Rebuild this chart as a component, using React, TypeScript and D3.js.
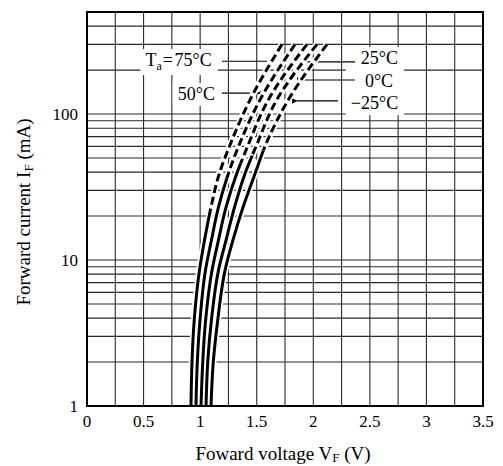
import React, { useEffect, useRef } from "react";
import * as d3 from "d3";

const W = 503;
const H = 466;

// Forward current sample points (mA), shared by all curves
const currents = [1, 2, 3.9, 8.5, 13.7, 23, 39, 60, 125, 300];
// Forward voltage (V) per ambient temperature
const vf75 = [0.919, 0.928, 0.948, 0.994, 1.039, 1.096, 1.169, 1.259, 1.441, 1.723];
const vf50 = [0.963, 0.975, 0.999, 1.047, 1.1, 1.162, 1.249, 1.339, 1.529, 1.838];
const vf25 = [1.008, 1.023, 1.049, 1.105, 1.162, 1.229, 1.323, 1.419, 1.602, 1.944];
const vf0 = [1.052, 1.067, 1.1, 1.162, 1.229, 1.304, 1.396, 1.494, 1.677, 2.033];
const vfm25 = [1.096, 1.116, 1.156, 1.22, 1.29, 1.379, 1.485, 1.573, 1.779, 2.121];
const seriesV = [vf75, vf50, vf25, vf0, vfm25];
// current (mA) above which each curve is drawn dashed
const dashAbove = [20, 36, 46, 52, 56];

const xTicks = [0, 0.5, 1, 1.5, 2, 2.5, 3, 3.5];
const xTickLabels = ["0", "0.5", "1", "1.5", "2", "2.5", "3", "3.5"];
const xGrid = [0.25, 0.5, 0.75, 1, 1.25, 1.5, 1.75, 2, 2.25, 2.5, 2.75, 3, 3.25];
const yTicks = [1, 10, 100];
const yTickLabels = ["1", "10", "100"];
const yGrid = [2, 3, 4, 5, 6, 7, 8, 9, 10, 20, 30, 40, 50, 60, 70, 80, 90, 100, 200, 300, 400];

// annotation labels: text, subscript, tail, position (V, mA), anchor, group
const labelMain = ["T", "50°C", "25°C", "0°C", "−25°C"];
const labelSub = ["a", "", "", "", ""];
const labelTail = ["=75°C", "", "", "", ""];
const labelV = [1.102, 1.131, 2.585, 2.581, 2.541];
const labelI = [213, 124.7, 220, 154, 108];
const labelAnchor = ["end", "end", "middle", "middle", "middle"];
const labelGroup = [0, 1, 2, 2, 2];

// leader lines: current (mA), from V, to V, arrow at "from" end
const leaderI = [230, 139, 228, 171, 123];
const leaderV1 = [1.591, 1.503, 1.944, 1.9, 1.856];
const leaderV2 = [1.193, 1.193, 2.369, 2.369, 2.218];
const leaderArrow = [false, true, false, true, true];

const FONT = "'Liberation Serif', 'Times New Roman', serif";

export default function App() {
  const ref = useRef<SVGSVGElement | null>(null);

  useEffect(() => {
    const svg = d3.select(ref.current);
    svg.selectAll("*").remove();

    const x = d3.scaleLinear().domain([0, 3.5]).range([87, 483]);
    const y = d3.scaleLog().domain([1, 500]).range([406, 12]);
    const [x0, x1] = x.range();
    const [y0, y1] = y.range();

    svg.append("rect").attr("width", W).attr("height", H).attr("fill", "#fff");

    const defs = svg.append("defs");
    defs
      .append("marker")
      .attr("id", "arr")
      .attr("viewBox", "0 0 10 10")
      .attr("refX", 1)
      .attr("refY", 5)
      .attr("markerWidth", 6)
      .attr("markerHeight", 6)
      .attr("markerUnits", "userSpaceOnUse")
      .attr("orient", "auto-start-reverse")
      .append("path")
      .attr("d", "M0,5 L10,0 L10,10 Z")
      .attr("fill", "#000");

    // grid
    const g = svg.append("g");
    g.selectAll("line.vx")
      .data(xGrid)
      .join("line")
      .attr("x1", (d) => x(d))
      .attr("x2", (d) => x(d))
      .attr("y1", y1)
      .attr("y2", y0)
      .attr("stroke", "#2a2a2a")
      .attr("stroke-width", 1.1);
    g.selectAll("line.hy")
      .data(yGrid)
      .join("line")
      .attr("x1", x0)
      .attr("x2", x1)
      .attr("y1", (d) => y(d))
      .attr("y2", (d) => y(d))
      .attr("stroke", "#2a2a2a")
      .attr("stroke-width", 1.1);

    // labels (measured for white backgrounds)
    const boxLayer = svg.append("g");
    const leaderLayer = svg.append("g");
    const textLayer = svg.append("g");
    const nodes: SVGTextElement[] = [];
    labelMain.forEach((m, i) => {
      const t = textLayer
        .append("text")
        .attr("x", x(labelV[i]))
        .attr("y", y(labelI[i]))
        .attr("text-anchor", labelAnchor[i])
        .attr("font-family", FONT)
        .attr("font-size", 18)
        .attr("fill", "#000");
      t.append("tspan").text(m);
      if (labelSub[i]) {
        t.append("tspan").attr("font-size", 12).attr("dy", 4).text(labelSub[i]);
        t.append("tspan").attr("dy", -4).attr("dx", 1).text("=");
        t.append("tspan").attr("dx", 1.5).text(labelTail[i].slice(1));
      }
      nodes.push(t.node() as SVGTextElement);
    });
    const groups = Array.from(new Set(labelGroup));
    groups.forEach((gi) => {
      let bx0 = Infinity, by0 = Infinity, bx1 = -Infinity, by1 = -Infinity;
      nodes.forEach((n, i) => {
        if (labelGroup[i] !== gi) return;
        const b = n.getBBox();
        bx0 = Math.min(bx0, b.x);
        by0 = Math.min(by0, b.y);
        bx1 = Math.max(bx1, b.x + b.width);
        by1 = Math.max(by1, b.y + b.height);
      });
      boxLayer
        .append("rect")
        .attr("x", bx0 - 5)
        .attr("y", by0 - 1)
        .attr("width", bx1 - bx0 + 11)
        .attr("height", by1 - by0 + 3)
        .attr("fill", "#fff");
    });

    // leaders
    leaderI.forEach((li, i) => {
      leaderLayer
        .append("line")
        .attr("x1", x(leaderV1[i]))
        .attr("x2", x(leaderV2[i]))
        .attr("y1", y(li))
        .attr("y2", y(li))
        .attr("stroke", "#000")
        .attr("stroke-width", 1.2)
        .attr("marker-start", leaderArrow[i] ? "url(#arr)" : null);
    });

    // curves
    const line = d3
      .line<[number, number]>()
      .x((d) => x(d[0]))
      .y((d) => y(d[1]))
      .curve(d3.curveMonotoneY);

    const pts = seriesV.map((vs) =>
      vs.map((v, k) => [v, currents[k]] as [number, number]).reverse()
    );

    const curveLayer = svg.append("g");
    pts.forEach((p) => {
      curveLayer
        .append("path")
        .attr("d", line(p))
        .attr("fill", "none")
        .attr("stroke", "#fff")
        .attr("stroke-width", 6.5);
    });
    pts.forEach((p, i) => {
      const yc = y(dashAbove[i]);
      const cs = "cs" + i;
      const cd = "cd" + i;
      defs.append("clipPath").attr("id", cs).append("rect")
        .attr("x", 0).attr("y", yc).attr("width", W).attr("height", H);
      defs.append("clipPath").attr("id", cd).append("rect")
        .attr("x", 0).attr("y", 0).attr("width", W).attr("height", yc);
      curveLayer
        .append("path")
        .attr("d", line(p))
        .attr("fill", "none")
        .attr("stroke", "#000")
        .attr("stroke-width", 3)
        .attr("clip-path", `url(#${cs})`);
      curveLayer
        .append("path")
        .attr("d", line(p))
        .attr("fill", "none")
        .attr("stroke", "#000")
        .attr("stroke-width", 3)
        .attr("stroke-dasharray", "8,4")
        .attr("clip-path", `url(#${cd})`);
    });

    // frame
    svg
      .append("rect")
      .attr("x", x0)
      .attr("y", y1)
      .attr("width", x1 - x0)
      .attr("height", y0 - y1)
      .attr("fill", "none")
      .attr("stroke", "#000")
      .attr("stroke-width", 2);

    // tick labels
    svg
      .append("g")
      .selectAll("text")
      .data(xTicks)
      .join("text")
      .attr("x", (d) => x(d))
      .attr("y", 427)
      .attr("text-anchor", "middle")
      .attr("font-family", FONT)
      .attr("font-size", 17)
      .text((d, i) => xTickLabels[i]);
    svg
      .append("g")
      .selectAll("text")
      .data(yTicks)
      .join("text")
      .attr("x", 78)
      .attr("y", (d) => y(d))
      .attr("dy", "0.35em")
      .attr("text-anchor", "end")
      .attr("font-family", FONT)
      .attr("font-size", 17)
      .text((d, i) => yTickLabels[i]);

    // axis titles
    const xt = svg
      .append("text")
      .attr("x", 283)
      .attr("y", 459.5)
      .attr("text-anchor", "middle")
      .attr("font-family", FONT)
      .attr("font-size", 19);
    xt.append("tspan").text("Foward voltage V");
    xt.append("tspan").attr("font-size", 13).attr("dy", 2.5).text("F");
    xt.append("tspan").attr("dy", -2.5).text(" (V)");

    const yt = svg
      .append("text")
      .attr("transform", "translate(30,212) rotate(-90)")
      .attr("text-anchor", "middle")
      .attr("font-family", FONT)
      .attr("font-size", 19);
    yt.append("tspan").text("Forward current I");
    yt.append("tspan").attr("font-size", 13).attr("dy", 2.5).text("F");
    yt.append("tspan").attr("dy", -2.5).text(" (mA)");
  }, []);

  return (
    <svg
      ref={ref}
      width={W}
      height={H}
      style={{ position: "absolute", left: 0, top: 0 }}
    />
  );
}
